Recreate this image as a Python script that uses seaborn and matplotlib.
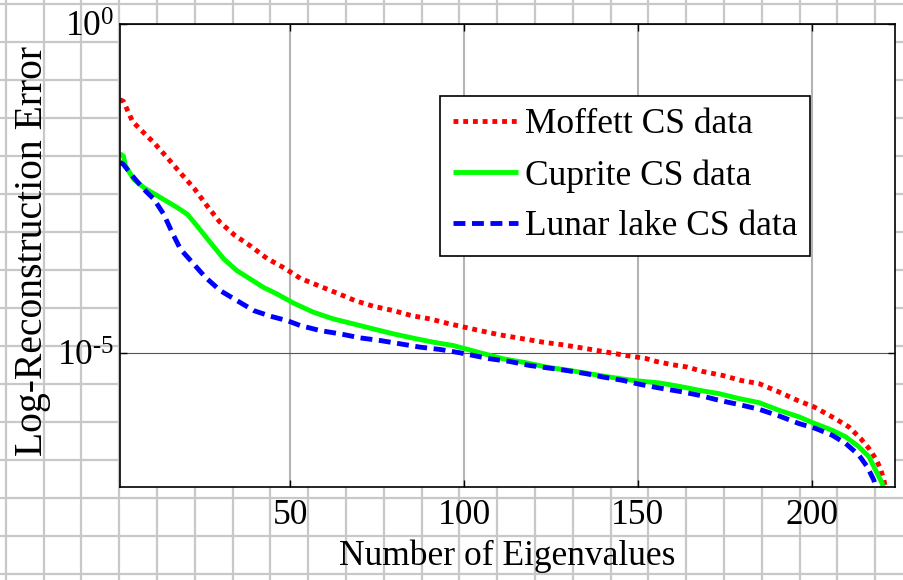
import numpy as np
import pandas as pd
import matplotlib
matplotlib.use("Agg")
import matplotlib.pyplot as plt
from matplotlib.ticker import NullLocator, FixedLocator, FixedFormatter
import seaborn as sns

# ---------------- data ----------------
series_names = ["Moffett CS data", "Cuprite CS data", "Lunar lake CS data"]

moffett_x = [1, 2, 4.6, 6.7, 10.8, 14.8, 18.6, 22.4, 26.1, 29.7, 33.9, 38.5, 43.3, 48.1,
             52.9, 58.6, 63.4, 68.7, 73.9, 79.7, 84.9, 90.2, 95.9, 104.5, 110.3, 117,
             122.7, 128.4, 134.2, 139.9, 146.6, 152.4, 155.3, 160, 164.3, 168.6, 174.4,
             179.6, 184.9, 190.6, 195.9, 200.7, 205.9, 210.7, 214.1, 216.5, 218.4, 219.8,
             220.8, 221.5]
moffett_log10 = [-1.15, -1.175, -1.478, -1.593, -1.805, -2.042, -2.274, -2.50, -2.764, -3.006,
                 -3.203, -3.369, -3.56, -3.70, -3.862, -3.983, -4.085, -4.201, -4.286, -4.352,
                 -4.428, -4.478, -4.554, -4.655, -4.72, -4.78, -4.831, -4.871, -4.921, -4.972,
                 -5.033, -5.08, -5.124, -5.174, -5.209, -5.275, -5.336, -5.411, -5.461, -5.587,
                 -5.714, -5.814, -5.965, -6.117, -6.293, -6.445, -6.596, -6.747, -6.924, -7.1]

cuprite_x = [1, 2, 2.6, 5, 7.9, 12.7, 17.5, 20.4, 23.2, 27, 30.9, 34.7, 38.5, 42.3, 46.2,
             51, 56.7, 62.4, 68.2, 73.9, 79.7, 85.4, 91.1, 96.9, 104.5, 111.2, 117.9, 123.7,
             130.4, 136.1, 141.8, 148.5, 156.2, 162, 167.7, 173.4, 179.2, 184.9, 190.6,
             196.4, 200.2, 205.9, 209.8, 213.6, 216.5, 218.4, 220.3, 221]
cuprite_log10 = [-1.97, -2.007, -2.159, -2.36, -2.486, -2.637, -2.788, -2.89, -3.067, -3.318,
                 -3.57, -3.747, -3.873, -4.0, -4.1, -4.24, -4.377, -4.478, -4.554, -4.63,
                 -4.705, -4.77, -4.831, -4.882, -4.99, -5.083, -5.144, -5.209, -5.26, -5.31,
                 -5.36, -5.411, -5.45, -5.502, -5.562, -5.613, -5.688, -5.749, -5.865, -5.965,
                 -6.051, -6.168, -6.268, -6.419, -6.57, -6.773, -6.974, -7.1]

lunar_x = [1, 2, 5, 7.9, 10.8, 13.6, 16, 18.4, 21.8, 25.6, 29.9, 34.7, 39.5, 44.3, 49.1,
           52.9, 58.6, 64.4, 70.1, 75.9, 81.6, 87.3, 93.1, 98.8, 107.4, 113.1, 118.9, 123.7,
           129.4, 135.2, 139.9, 145.7, 150.5, 156.2, 162, 167.7, 173.4, 179.2, 184.9, 190.6,
           196.4, 201.2, 205.9, 209.8, 213.6, 216, 217.9, 218.7]
lunar_log10 = [-2.10, -2.133, -2.334, -2.511, -2.663, -2.89, -3.166, -3.419, -3.62, -3.847,
               -4.05, -4.201, -4.352, -4.437, -4.504, -4.579, -4.655, -4.705, -4.766, -4.806,
               -4.856, -4.906, -4.942, -4.992, -5.083, -5.124, -5.185, -5.219, -5.26, -5.31,
               -5.36, -5.411, -5.47, -5.527, -5.578, -5.638, -5.714, -5.779, -5.85, -5.95,
               -6.067, -6.142, -6.243, -6.369, -6.546, -6.722, -6.924, -7.1]

x_ticks = [50, 100, 150, 200]
y_ticks = [1e-5, 1e0]
y_tick_labels = ["$\\mathrm{10^{\u20105}}$", "$\\mathrm{10^{0}}$"]

# ---------------- style ----------------
plt.rcParams["font.family"] = ["Liberation Serif", "DejaVu Serif"]
plt.rcParams["mathtext.fontset"] = "custom"
plt.rcParams["mathtext.rm"] = "Liberation Serif"
plt.rcParams["mathtext.it"] = "Liberation Serif:italic"
plt.rcParams["mathtext.bf"] = "Liberation Serif:bold"
FS = 25.5

fig = plt.figure(figsize=(9.04, 5.80), dpi=100)
fig.patch.set_facecolor("white")

# graph-paper background
bg = fig.add_axes([0, 0, 1, 1], zorder=0)
bg.set_xlim(0, 904)
bg.set_ylim(580, 0)
bg.axis("off")
paper_x = 5.8 + 37.8 * np.arange(24)
paper_y = 4.4 + 37.95 * np.arange(16)
bg.vlines(paper_x, 0, 580, color="#c8c8c8", lw=1.6)
bg.hlines(paper_y, 0, 904, color="#c8c8c8", lw=1.6)

ax = fig.add_axes([120 / 904, 1 - 487 / 580, 775 / 904, 463 / 580], zorder=1)
ax.set_facecolor("white")

colors = ["#ff0000", "#00ff00", "#0000ff"]
xs = [moffett_x, cuprite_x, lunar_x]
ls = [moffett_log10, cuprite_log10, lunar_log10]
LW = 3.5
for name, xv, lv, c in zip(series_names, xs, ls, colors):
    df = pd.DataFrame({"n": xv, "err": np.power(10.0, lv)})
    sns.lineplot(data=df, x="n", y="err", color=c, lw=LW, ax=ax, label=name,
                 sort=False, estimator=None)

lines = ax.get_lines()
lines[0].set_dashes((1, 1))
lines[0].set_dash_capstyle("butt")
lines[2].set_dashes((2.45, 1.35))
lines[2].set_dash_capstyle("butt")
lines[1].set_solid_capstyle("butt")

ax.set_yscale("log")
ax.set_xlim(1, 224)
ax.set_ylim(10 ** -7.03, 1)
ax.xaxis.set_major_locator(FixedLocator(x_ticks))
ax.yaxis.set_major_locator(FixedLocator(y_ticks))
ax.yaxis.set_major_formatter(FixedFormatter(y_tick_labels))
ax.yaxis.set_minor_locator(NullLocator())
ax.xaxis.set_minor_locator(NullLocator())

ax.tick_params(direction="in", length=5, width=1, top=True, right=True,
               labelsize=FS, colors="black")
ax.tick_params(axis="x", pad=9)
ax.tick_params(axis="y", pad=4)

ax.set_axisbelow(True)
ax.xaxis.grid(True, color="#b4b4b4", lw=1.5)
ax.yaxis.grid(True, color="#555555", lw=0.8)
for s in ax.spines.values():
    s.set_linewidth(1.2)
    s.set_color("black")

ax.set_xlabel("Number of Eigenvalues", fontsize=FS, labelpad=5)
ax.set_ylabel("Log-Reconstruction Error", fontsize=28.5)
ax.yaxis.set_label_coords(-0.089, 0.51)

leg = ax.legend(loc="upper right", bbox_to_anchor=(0.890, 0.8445), borderaxespad=0,
                fancybox=False, edgecolor="black", framealpha=1, fontsize=FS,
                handlelength=1.84, handletextpad=0.2, labelspacing=0.5, borderpad=0.35)
leg.get_frame().set_linewidth(1.2)

fig.savefig("out.png", dpi=100, facecolor="white")
